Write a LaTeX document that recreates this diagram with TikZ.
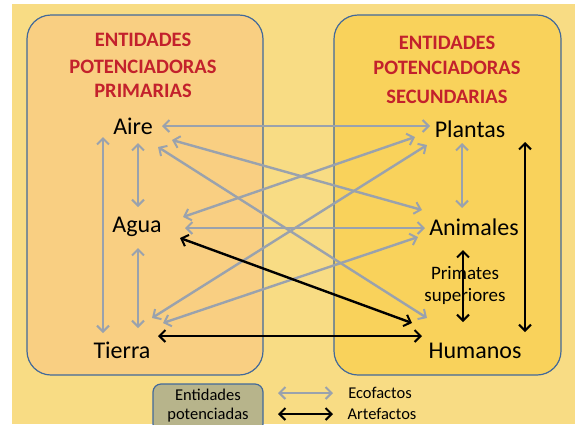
\documentclass[tikz,border=0pt]{standalone}
\usepackage{fontspec}
\setmainfont{Carlito}
\usetikzlibrary{arrows.meta}
\definecolor{bgyel}{HTML}{F8DC84}
\definecolor{boxL}{HTML}{F9CF82}
\definecolor{boxR}{HTML}{F9D25B}
\definecolor{boxline}{HTML}{42699A}
\definecolor{titred}{HTML}{C3212C}
\definecolor{arrgray}{HTML}{9AA2AD}
\definecolor{legfill}{HTML}{B7B48B}
\begin{document}
\begin{tikzpicture}[x=1pt,y=-1pt,
  tip/.tip={Straight Barb[length=6pt,width=12pt,line width=2pt]},
  eco/.style={draw=arrgray, line width=2.4pt, tip-tip},
  art/.style={draw=black, line width=2.4pt, tip-tip},
  lbl/.style={font=\fontsize{24}{26}\selectfont, inner sep=0pt},
  small/.style={font=\fontsize{19}{23}\selectfont, inner sep=0pt},
  leg/.style={font=\fontsize{16.5}{20}\selectfont, inner sep=0pt},
  ttl/.style={font=\bfseries\fontsize{20.5}{26}\selectfont, text=titred, inner sep=0pt},
  bigbox/.style={draw=boxline, line width=1.2pt, rounded corners=24pt}]
\useasboundingbox (0,0) rectangle (575,424);
\fill[white] (0,0) rectangle (575,424);
\fill[bgyel] (12,4) rectangle (575,424);
% boxes
\fill[boxL, rounded corners=24pt] (27,15) rectangle (263,375);
\fill[boxR, rounded corners=24pt] (334,15) rectangle (561,375);
\fill[bgyel] (334,15) rectangle (263,375);
\draw[bigbox] (27,15) rectangle (263,375);
\draw[bigbox] (334,15) rectangle (561,375);
% titles
\node[ttl] (tl1) at (143,40) {ENTIDADES};
\node[ttl] (tl2) at (143,67) {POTENCIADORAS};
\node[ttl] (tl3) at (143,91) {PRIMARIAS};
\node[ttl] (tr1) at (447,43) {ENTIDADES};
\node[ttl] (tr2) at (447,68) {POTENCIADORAS};
\node[ttl] (tr3) at (447,97) {SECUNDARIAS};
% nodes
\node[lbl] (aire) at (133,126) {Aire};
\node[lbl] (agua) at (137,227) {Agua};
\node[lbl] (tierra) at (122,350) {Tierra};
\node[lbl] (plantas) at (470,129) {Plantas};
\node[lbl] (animales) at (474,227) {Animales};
\node[lbl] (humanos) at (475,351) {Humanos};
\node[small] (prim) at (465,273) {Primates};
\node[small] (sup) at (465,296) {superiores};
% endpoints
\coordinate (aE) at (162,126);
\coordinate (aSE1) at (172,140);
\coordinate (aSE2) at (158,147);
\coordinate (aS) at (138,143);
\coordinate (aSW) at (103,137);
\coordinate (gNE) at (183,217);
\coordinate (gE) at (185,228);
\coordinate (gSE) at (180,238);
\coordinate (gN) at (138,207);
\coordinate (gS) at (138,248);
\coordinate (tN) at (138,328);
\coordinate (tNW) at (103,333);
\coordinate (tNE1) at (152,318);
\coordinate (tNE2) at (163,323);
\coordinate (tE) at (158,336);
\coordinate (pW) at (430,126);
\coordinate (pSW1) at (415,137);
\coordinate (pSW2) at (427,145);
\coordinate (pS) at (462,143);
\coordinate (pSE) at (525,142);
\coordinate (nW1) at (422,210);
\coordinate (nW) at (425,228);
\coordinate (nW2) at (418,237);
\coordinate (nN) at (462,208);
\coordinate (nS) at (463,250);
\coordinate (hN) at (463,322);
\coordinate (hNE) at (525,332);
\coordinate (hNW1) at (427,318);
\coordinate (hNW2) at (412,323);
\coordinate (hW) at (422,336);
% gray arrows
\draw[eco] (aE) -- (pW);
\draw[eco] (aSE1) -- (nW1);
\draw[eco] (aSE2) -- (hNW1);
\draw[eco] (gNE) -- (pSW1);
\draw[eco] (gE) -- (nW);
\draw[eco] (tNE1) -- (pSW2);
\draw[eco] (tNE2) -- (nW2);
\draw[eco] (aS) -- (gN);
\draw[eco] (gS) -- (tN);
\draw[eco] (aSW) -- (tNW);
\draw[eco] (pS) -- (nN);
% black arrows
\draw[art] (gSE) -- (hNW2);
\draw[art] (tE) -- (hW);
\draw[art] (nS) -- (hN);
\draw[art] (pSE) -- (hNE);
% legend
\draw[draw=boxline, fill=legfill, line width=1.2pt, rounded corners=8pt] (153,384) rectangle (263,432);
\node[leg] (ent1) at (208,395) {Entidades};
\node[leg] (ent2) at (208,415) {potenciadas};
\coordinate (lg1) at (278,393);
\coordinate (lg2) at (333,393);
\coordinate (lb1) at (278,414);
\coordinate (lb2) at (333,414);
\draw[eco] (lg1) -- (lg2);
\draw[art] (lb1) -- (lb2);
\node[leg] (eco) at (380,393) {Ecofactos};
\node[leg] (arte) at (382,414) {Artefactos};
\end{tikzpicture}
\end{document}
